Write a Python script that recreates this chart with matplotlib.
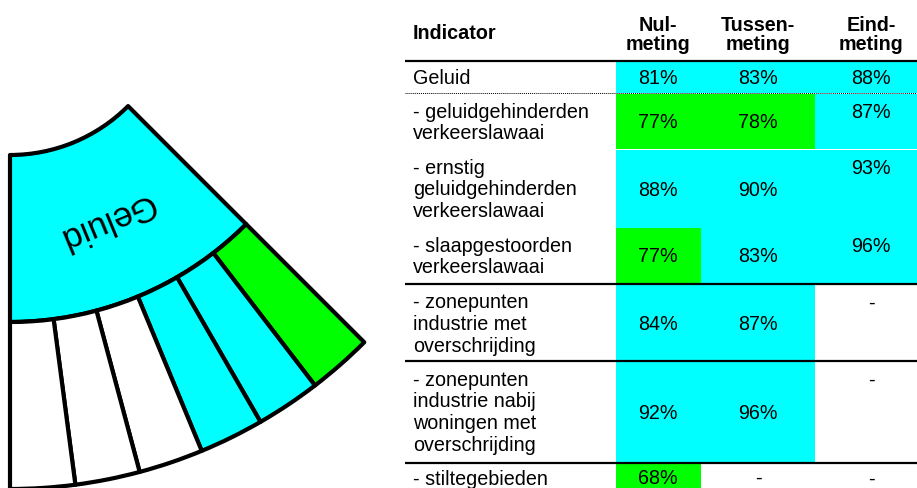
import numpy as np
import matplotlib.pyplot as plt
from matplotlib.patches import Wedge, Rectangle

plt.rcParams['font.family'] = ['Liberation Sans', 'DejaVu Sans']

# --- data ---
headers = ["Indicator", "Nul-\nmeting", "Tussen-\nmeting", "Eind-\nmeting"]
indicators = ["Geluid",
              "- geluidgehinderden\nverkeerslawaai",
              "- ernstig\ngeluidgehinderden\nverkeerslawaai",
              "- slaapgestoorden\nverkeerslawaai",
              "- zonepunten\nindustrie met\noverschrijding",
              "- zonepunten\nindustrie nabij\nwoningen met\noverschrijding",
              "- stiltegebieden"]
nulmeting = ["81%", "77%", "88%", "77%", "84%", "92%", "68%"]
tussenmeting = ["83%", "78%", "90%", "83%", "87%", "96%", "-"]
eindmeting = ["88%", "87%", "93%", "96%", "-", "-", "-"]
nul_colors = ["cyan", "lime", "cyan", "lime", "cyan", "cyan", "lime"]
tussen_colors = ["cyan", "lime", "cyan", "cyan", "cyan", "cyan", "white"]
eind_colors = ["cyan", "cyan", "cyan", "cyan", "white", "white", "white"]

fan_label = "Geluid"
fan_inner_color = "cyan"
fan_outer_colors = ["lime", "cyan", "cyan", "white", "white", "white"]

# --- layout (pixel coordinates) ---
fig = plt.figure(figsize=(9.17, 4.88), dpi=100)
ax = fig.add_axes([0, 0, 1, 1])
ax.set_xlim(0, 917)
ax.set_ylim(488, 0)
ax.set_aspect('equal')
ax.axis('off')

# fan
cx, cy = 10, -12
r0, r1, r2 = 167, 334, 501
th_lo, th_hi = 45, 90
lw_fan = 3.0
ax.add_patch(Wedge((cx, cy), r1, th_lo, th_hi, width=r1 - r0,
                   facecolor=fan_inner_color, edgecolor='black', lw=lw_fan, joinstyle='round'))
step = (th_hi - th_lo) / len(fan_outer_colors)
for i, c in enumerate(fan_outer_colors):
    ax.add_patch(Wedge((cx, cy), r2, th_lo + i * step, th_lo + (i + 1) * step, width=r2 - r1,
                       facecolor=c, edgecolor='black', lw=lw_fan, joinstyle='round'))
tm = np.deg2rad((th_lo + th_hi) / 2)
rm = (r0 + r1) / 2 + 2
ax.text(cx + rm * np.cos(tm), cy + rm * np.sin(tm), fan_label, fontsize=25,
        rotation=202.5, rotation_mode='anchor', ha='center', va='center')

# table
fs = 14.2
col_edges = [616, 701, 815, 917]
col_centers = [658, 758, 871]
row_tops = [62, 94, 150, 228, 285, 362, 464]
row_bots = [93, 149, 228, 284, 361, 463, 490]
line_h = 21.7

ax.text(413, 39, headers[0], fontsize=fs, fontweight='bold', ha='left', va='baseline')
for j, h in enumerate(headers[1:]):
    for k, part in enumerate(h.split("\n")):
        ax.text(col_centers[j], 31 + k * 19, part, fontsize=fs, fontweight='bold',
                ha='center', va='baseline')

cols = [(nulmeting, nul_colors), (tussenmeting, tussen_colors), (eindmeting, eind_colors)]
for i, name in enumerate(indicators):
    top, bot = row_tops[i], row_bots[i]
    for j, (vals, colors) in enumerate(cols):
        if colors[i] != "white":
            ax.add_patch(Rectangle((col_edges[j], top), col_edges[j + 1] - col_edges[j],
                                   bot - top, facecolor=colors[i], edgecolor='none'))
    if i == 0:
        first = top + 21.5
    elif i == len(indicators) - 1:
        first = top + 21
    else:
        first = top + 23.5
    for k, part in enumerate(name.split("\n")):
        ax.text(413, first + k * line_h, part, fontsize=fs, ha='left', va='baseline')
    mid = (top + bot) / 2 + 6.5
    ax.text(col_centers[0], mid, nulmeting[i], fontsize=fs, ha='center', va='baseline')
    ax.text(col_centers[1], mid, tussenmeting[i], fontsize=fs, ha='center', va='baseline')
    ax.text(col_centers[2], first, eindmeting[i], fontsize=fs, ha='center', va='baseline')

for y in [61, 284, 361, 463]:
    ax.plot([405, 917], [y, y], color='black', lw=1.6, solid_capstyle='butt')
ax.plot([405, 917], [93, 93], color='black', lw=0.7, linestyle=(0, (1, 1)))

fig.savefig("out.png", dpi=100)
